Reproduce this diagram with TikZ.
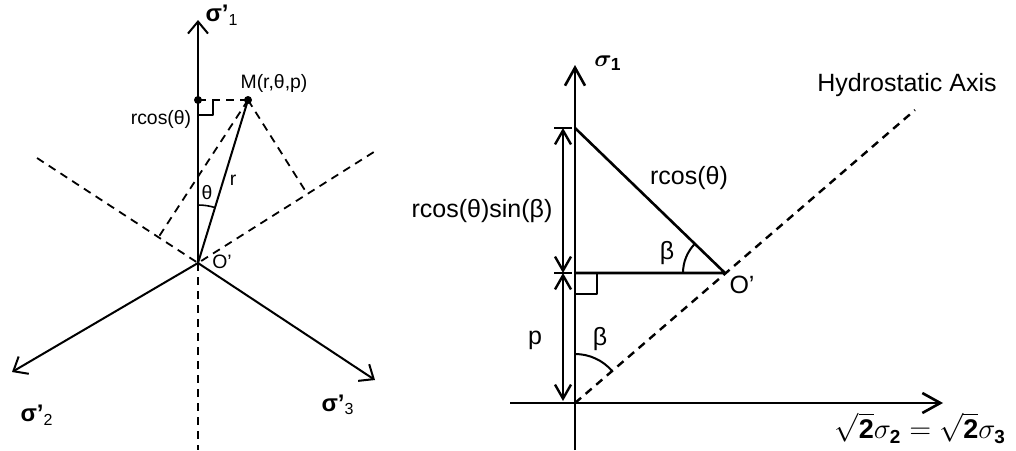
\documentclass[tikz,border=0pt]{standalone}
\usepackage{fontspec}
\setmainfont{Liberation Sans}
\usepackage{amsmath,bm}
\usetikzlibrary{arrows.meta,calc,angles}

\begin{document}
\begin{tikzpicture}[x=0.5pt, y=-0.5pt, line join=round,
  >={Straight Barb[length=6pt,width=10pt]},
  axis/.style={line width=1pt, ->},
  proj/.style={line width=0.9pt, dash pattern=on 4pt off 3pt},
  dimarrow/.style={line width=1.2pt, <->, >={Straight Barb[length=7pt,width=8pt]}},
  small/.style={font=\fontsize{9.7}{11}\selectfont},
  sig/.style={font=\bfseries\fontsize{12}{14}\selectfont},
  big/.style={font=\fontsize{12.5}{14}\selectfont}]
  \useasboundingbox (0,0) rectangle (1016,450);

  % Deviatoric plane
  \coordinate (O) at (198,263);
  \coordinate (S1) at (198,20);
  \coordinate (S2) at (12,372);
  \coordinate (S3) at (375,380);
  \coordinate (Ob) at (198,450);
  \coordinate (E2) at (37,158);
  \coordinate (E3) at (377,150);
  \coordinate (M) at (248,100);
  \coordinate (P) at (198,100);

  % Axes
  \draw[axis] (O) -- (S1);
  \draw[axis] (O) -- (S2);
  \draw[axis] (O) -- (S3);
  \draw[proj] (O) -- (Ob);
  \draw[proj] (E2) -- (O) -- (E3);

  % Point M and its projections
  \draw[line width=1pt] (O) -- (M);
  \draw[proj] (P) -- (M);
  \draw[proj] (M) -- ($(O)!(M)!(E2)$);
  \draw[proj] (M) -- ($(O)!(M)!(E3)$);
  \draw[line width=0.8pt] (P) ++(0,15) -- ++(15,0) -- ++(0,-15);
  \fill (P) circle (2pt);
  \fill (M) circle (2pt);
  \pic[draw, line width=0.8pt, angle radius=29pt] {angle = M--O--P};

  % Labels
  \node[sig] (s1lbl) at (222,15) {σ'\textsubscript{\mdseries 1}};
  \node[sig] (s2lbl) at (37,415) {σ'\textsubscript{\mdseries 2}};
  \node[sig] (s3lbl) at (338,405) {σ'\textsubscript{\mdseries 3}};
  \node[small] (Mlbl) at (274,83) {M(r,θ,p)};
  \node[small] (rclbl) at (161,119) {rcos(θ)};
  \node[small] (thlbl) at (207,193) {θ};
  \node[small] (rlbl) at (233,180) {r};
  \node[small] (Olbl) at (222,262) {O’};

  % Meridian plane
  \coordinate (R) at (575,403);
  \coordinate (Rtop) at (575,65);
  \coordinate (Rbot) at (575,450);
  \coordinate (Hl) at (510,403);
  \coordinate (Hr) at (943,403);
  \coordinate (H) at (915,110);
  \coordinate (Q) at (725,273);
  \coordinate (T) at (575,128);
  \coordinate (F) at (575,273);

  % Axes
  \draw[line width=1.3pt, ->, >={Straight Barb[length=9pt,width=10pt]}] (Rbot) -- (Rtop);
  \draw[line width=1.3pt, ->, >={Straight Barb[length=9pt,width=10pt]}] (Hl) -- (Hr);
  \draw[proj, line width=1.2pt] (R) -- (H);

  % Triangle
  \draw[line width=1.3pt] (T) -- (Q) -- (F);
  \draw[line width=0.9pt] (F) ++(0,21) -- ++(22,0) -- ++(0,-21);
  \pic[draw, line width=1pt, angle radius=21pt] {angle = T--Q--F};
  \pic[draw, line width=1pt, angle radius=24.5pt] {angle = H--R--T};

  % Dimensions
  \coordinate (D1) at (563,128);
  \coordinate (D2) at (563,273);
  \coordinate (D3) at (563,401);
  \draw[line width=1.3pt] ($(D1)+(-9,0)$) -- ($(D1)+(9,0)$);
  \draw[line width=1.3pt] ($(D2)+(-9,0)$) -- ($(D2)+(9,0)$);
  \draw[dimarrow] (D1) -- (D2);
  \draw[dimarrow] (D2) -- (D3);

  % Labels
  \node[big] (sig1lbl) at (608,63) {$\bm{\sigma}_{\mathbf{1}}$};
  \node[big] (hydlbl) at (907,85) {Hydrostatic Axis};
  \node[big] (hyplbl) at (689,178) {rcos(θ)};
  \node[big] (dimlbl) at (482,211) {rcos(θ)sin(β)};
  \node[big] (b1lbl) at (667,253) {β};
  \node[big] (b2lbl) at (600,339) {β};
  \node[big] (plbl) at (535,340) {p};
  \node[big] (Qlbl) at (742,285) {O’};
  \node[font=\fontsize{13.5}{15}\selectfont, anchor=east] (eqlbl) at (1013,428)
    {$\sqrt{\mathbf{2}}\sigma_{\mathbf{2}}=\sqrt{\mathbf{2}}\sigma_{\mathbf{3}}$};
\end{tikzpicture}
\end{document}
